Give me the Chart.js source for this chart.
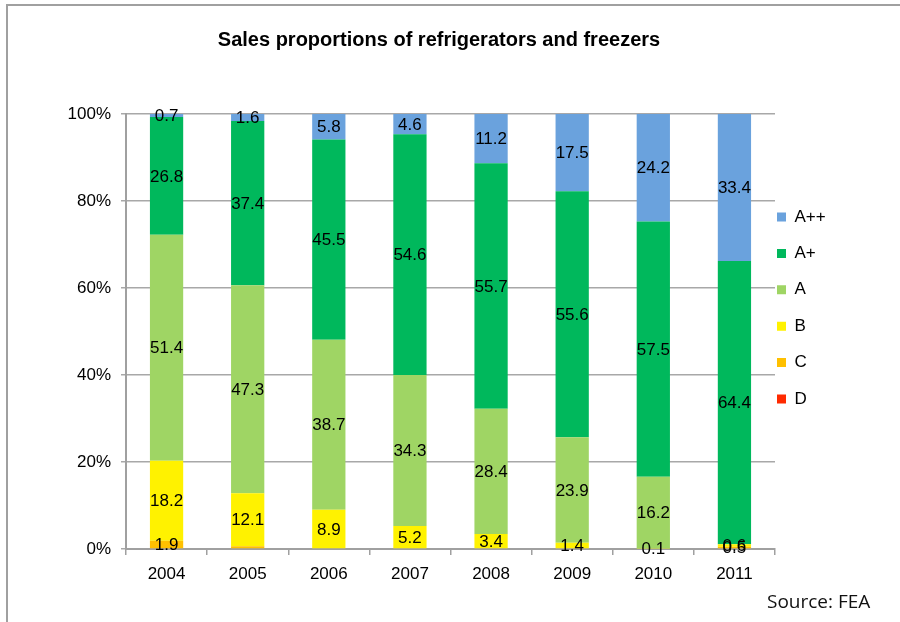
<!DOCTYPE html>
<html>
<head>
<meta charset="utf-8">
<script src="https://cdn.jsdelivr.net/npm/chart.js@4/dist/chart.umd.min.js"></script>
<style>
  html, body { margin: 0; padding: 0; background: #fff; }
  #wrap { position: relative; width: 900px; height: 622px; overflow: hidden; }
  #frame { position: absolute; left: 6px; top: 4px; width: 920px; height: 640px; border-left: 2px solid #a0a0a0; border-top: 2px solid #a0a0a0; }
  #src { position: absolute; left: 767px; top: 588px; font: 19px "Open Sans", "Liberation Sans", sans-serif; color: #111; }
  canvas { position: absolute; left: 0; top: 0; }
</style>
</head>
<body>
<div id="wrap">
  <div id="frame"></div>
  <canvas id="chart" width="900" height="622"></canvas>
  <div id="src">Source: FEA</div>
</div>
<script>
// Datos (valores en %, apilado al 100 %)
const years = ['2004', '2005', '2006', '2007', '2008', '2009', '2010', '2011'];
const classD   = [null, null, null, null, null, null, null, null];
const classC   = [1.9, 0.6, null, null, null, null, null, 0.5];
const classB   = [18.2, 12.1, 8.9, 5.2, 3.4, 1.4, 0.1, 0.6];
const classA   = [51.4, 47.3, 38.7, 34.3, 28.4, 23.9, 16.2, null];
const classAp  = [26.8, 37.4, 45.5, 54.6, 55.7, 55.6, 57.5, 64.4];
const classApp = [0.7, 1.6, 5.8, 4.6, 11.2, 17.5, 24.2, 33.4];
const yTicks = [0, 20, 40, 60, 80, 100];
// etiquetas que no aparecen en el original (año:serie)
const noLabel = ['2005:C'];

const series = [
  { label: 'D',   values: classD,   color: '#ff2a00' },
  { label: 'C',   values: classC,   color: '#ffc000' },
  { label: 'B',   values: classB,   color: '#fff200' },
  { label: 'A',   values: classA,   color: '#9fd564' },
  { label: 'A+',  values: classAp,  color: '#00b85c' },
  { label: 'A++', values: classApp, color: '#6aa2dd' }
];

// totales por año para normalizar a 100 %
const totals = years.map((_, i) => series.reduce((s, d) => s + (d.values[i] || 0), 0));

const FONT = '"Liberation Sans", Arial, sans-serif';
const FS = 17;

// ancho de la leyenda (para fijar el área del gráfico entre x=126 y x=775)
const LEG_PAD = 19.4, BOX = 9;
const mctx = document.createElement('canvas').getContext('2d');
mctx.font = FS + 'px ' + FONT;
const legW = LEG_PAD + BOX + FS / 2 + Math.max(...series.map(s => mctx.measureText(s.label).width)) + 10;
const padR = 900 - 775 - legW;
const padL = padR - 22;

// etiquetas de valor en el centro de cada segmento
const valueLabels = {
  id: 'valueLabels',
  afterDatasetsDraw(chart) {
    const ctx = chart.ctx;
    ctx.save();
    ctx.font = FS + 'px ' + FONT;
    ctx.fillStyle = '#000';
    ctx.textAlign = 'center';
    ctx.textBaseline = 'middle';
    chart.data.datasets.forEach((ds, di) => {
      const meta = chart.getDatasetMeta(di);
      meta.data.forEach((bar, i) => {
        const v = ds.raw[i];
        if (v == null || noLabel.includes(years[i] + ':' + ds.label)) return;
        const yc = (bar.y + bar.base) / 2;
        ctx.fillText(v.toFixed(1), bar.x, yc + 1);
      });
    });
    ctx.restore();
  }
};

// coloca la leyenda pegada al área del gráfico
const legendPos = {
  id: 'legendPos',
  beforeDraw(chart) {
    const lg = chart.legend;
    const w = lg.width, h = lg.height;
    lg.left = chart.chartArea.right + 2 - LEG_PAD;
    lg.right = lg.left + w;
    lg.top = -3;
    lg.bottom = lg.top + h;
  }
};

window.addEventListener('load', () => {
  new Chart(document.getElementById('chart'), {
    type: 'bar',
    data: {
      labels: years,
      datasets: series.map(s => ({
        label: s.label,
        raw: s.values,
        data: s.values.map((v, i) => v == null ? null : v / totals[i] * 100),
        backgroundColor: s.color,
        borderWidth: 0,
        barPercentage: 0.41,
        categoryPercentage: 1
      }))
    },
    options: {
      responsive: false,
      animation: false,
      devicePixelRatio: 1,
      layout: { padding: { left: padL, right: padR, top: 0, bottom: 0 } },
      plugins: {
        title: {
          display: true,
          text: 'Sales proportions of refrigerators and freezers',
          color: '#000',
          font: { family: FONT, size: 20, weight: 'bold' },
          padding: { top: 28, bottom: 62 }
        },
        legend: {
          position: 'right',
          reverse: true,
          labels: {
            color: '#000',
            font: { family: FONT, size: FS },
            boxWidth: BOX,
            boxHeight: BOX,
            padding: LEG_PAD
          }
        },
        tooltip: { enabled: false }
      },
      scales: {
        x: {
          stacked: true,
          afterFit: s => { s.height = 73; },
          grid: { drawOnChartArea: false, drawTicks: true, tickLength: 6, color: '#a0a0a0', lineWidth: 1.5 },
          border: { color: '#a0a0a0', width: 2 },
          ticks: { color: '#000', font: { family: FONT, size: FS }, padding: 9 }
        },
        y: {
          stacked: true,
          min: 0,
          max: 100,
          afterFit: s => { s.width = 126 - padL; },
          afterBuildTicks: s => { s.ticks = yTicks.map(v => ({ value: v })); },
          grid: { color: '#a8a8a8', lineWidth: 1.5, tickLength: 5 },
          border: { color: '#a0a0a0', width: 2 },
          ticks: { color: '#000', font: { family: FONT, size: FS }, padding: 10, callback: v => v + '%' }
        }
      }
    },
    plugins: [valueLabels, legendPos]
  });
});
</script>
</body>
</html>
